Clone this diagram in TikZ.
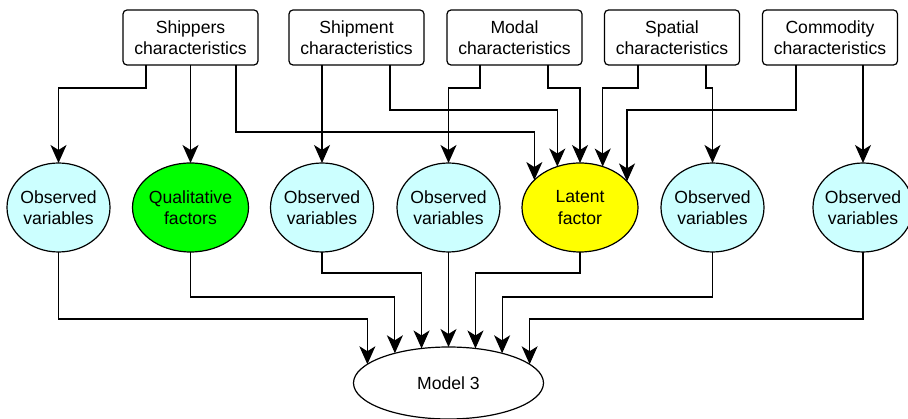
\documentclass[tikz,border=0pt]{standalone}
\usepackage{fontspec}
\setmainfont{Liberation Sans}
\usetikzlibrary{arrows.meta,shapes.geometric}
\definecolor{obsc}{HTML}{CCFFFF}
\definecolor{qualc}{HTML}{00FF00}
\definecolor{latc}{HTML}{FFFF00}
\tikzset{mytip/.tip={Stealth[length=18pt,width=16pt,inset=5pt]}}
\begin{document}
\begin{tikzpicture}[x=1pt,y=-1pt,
  every node/.style={font=\fontsize{17.6}{21.5}\selectfont, align=center, inner sep=0pt, outer sep=0pt},
  charbox/.style={draw, line width=1.2pt, rounded corners=4pt, minimum width=135pt, minimum height=55pt},
  ell/.style={draw, line width=1.2pt, ellipse, inner xsep=-14pt, inner ysep=-8pt, minimum height=89pt},
  obs/.style={ell, fill=obsc, minimum width=103pt},
  qual/.style={ell, fill=qualc, minimum width=116pt},
  lat/.style={ell, fill=latc, minimum width=116pt},
  arr/.style={line width=1.2pt, -mytip}
]
\useasboundingbox (0,0) rectangle (908,419);
% top boxes
\node[charbox] (shp) at (190.5,37.5) {Shippers\\characteristics};
\node[charbox] (smt) at (356.5,37.5) {Shipment\\characteristics};
\node[charbox] (mod) at (514.5,37.5) {Modal\\characteristics};
\node[charbox] (spa) at (672,37.5) {Spatial\\characteristics};
\node[charbox] (com) at (830,37.5) {Commodity\\characteristics};
% middle ellipses
\node[obs]  (o1)  at (58.5,207.5) {Observed\\variables};
\node[qual] (q)   at (190.5,207.5) {Qualitative\\factors};
\node[obs]  (o3)  at (322,207.5) {Observed\\variables};
\node[obs]  (o4)  at (448.5,207.5) {Observed\\variables};
\node[lat]  (lt)  at (580,207.5) {Latent\\factor};
\node[obs]  (o6)  at (712.5,207.5) {Observed\\variables};
\node[obs, minimum width=100pt] (o7) at (863,207.5) {Observed\\variables};
% model
\node[ell, fill=white, minimum width=190pt, minimum height=72pt] (m) at (448.5,383) {Model 3};
% top connectors
\draw[arr] ([xshift=-44.5pt]shp.south) |- (o1.north |- 0,88) -- (o1.north);
\draw[arr] (shp.south) -- (q.north);
\draw[arr] ([xshift=45.5pt]shp.south) |- (lt.149 |- 0,132) -- (lt.149);
\draw[arr] (o3.north |- smt.south) -- (o3.north);
\draw[arr] ([xshift=33.5pt]smt.south) |- (lt.119 |- 0,110) -- (lt.119);
\draw[arr] ([xshift=-34.5pt]mod.south) |- (o4.north |- 0,88) -- (o4.north);
\draw[arr] ([xshift=33.5pt]mod.south) |- (lt.north |- 0,88) -- (lt.north);
\draw[arr] ([xshift=-34pt]spa.south) |- (lt.61 |- 0,88) -- (lt.61);
\draw[arr] ([xshift=34pt]spa.south) |- (o6.north |- 0,88) -- (o6.north);
\draw[arr] ([xshift=-34pt]com.south) |- (lt.29 |- 0,110) -- (lt.29);
\draw[arr] (o7.north |- com.south) -- (o7.north);
% bottom connectors
\draw[arr] (o1.south) |- (m.167 |- 0,319) -- (m.167);
\draw[arr] (q.south) |- (m.151 |- 0,297) -- (m.151);
\draw[arr] (o3.south) |- (m.128 |- 0,273) -- (m.128);
\draw[arr] (o4.south) -- (m.north);
\draw[arr] (lt.south) |- (m.52 |- 0,273) -- (m.52);
\draw[arr] (o6.south) |- (m.29 |- 0,297) -- (m.29);
\draw[arr] (o7.south) |- (m.13 |- 0,319) -- (m.13);
\end{tikzpicture}
\end{document}
